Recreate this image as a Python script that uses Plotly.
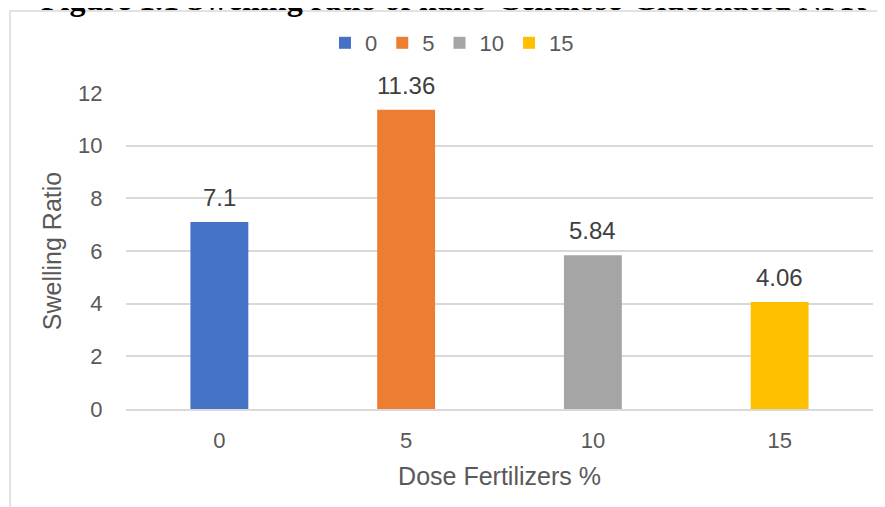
import plotly.graph_objects as go

# ---- data ----
categories = ["0", "5", "10", "15"]
swelling_ratio = [7.1, 11.36, 5.84, 4.06]
bar_colors = ["#4472C4", "#ED7D31", "#A5A5A5", "#FFC000"]
y_ticks = [0, 2, 4, 6, 8, 10, 12]
title_text = "Figure 1.1 Swelling ratio of nano-Cellulose-Gluconated NPK"
x_title = "Dose Fertilizers %"
y_title = "Swelling Ratio"

W, H = 885, 507
OFF = 8  # page body margin of the browser
ML, MR, MT, MB = 126 - OFF, 20, 93 - OFF, 106
PW, PH = W - ML - MR, H - MT - MB


def px_x(p):
    return (p - OFF - ML) / PW


def px_y(p):
    return (H - MB - (p - OFF)) / PH


FONT = "Liberation Sans, Arial, sans-serif"
GRAY = "#595959"

fig = go.Figure()
for i, (cat, val, col) in enumerate(zip(categories, swelling_ratio, bar_colors)):
    fig.add_trace(go.Bar(
        x=[cat], y=[val], name=cat, width=0.31,
        marker=dict(color=col, line=dict(width=0)),
        cliponaxis=False,
    ))
    fig.add_annotation(
        x=i, y=val, xref="x", yref="y", text=str(val),
        showarrow=False, yanchor="bottom", yshift=9,
        font=dict(family=FONT, size=24, color="#404040"),
    )

# figure heading (cut off at the top of the picture)
fig.add_annotation(
    x=px_x(453), y=px_y(19), xref="paper", yref="paper",
    text="<b>" + title_text + "</b>", showarrow=False,
    xanchor="center", yanchor="bottom",
    font=dict(family="Liberation Serif, Times New Roman, serif", size=32, color="#000000"),
)

# chart frame
fig.add_shape(
    type="rect", xref="paper", yref="paper",
    x0=px_x(10), x1=px_x(910), y0=px_y(11), y1=px_y(540),
    line=dict(color="#D9D9D9", width=1.5), fillcolor="rgba(0,0,0,0)", layer="below",
)

fig.update_layout(
    width=W, height=H,
    margin=dict(l=ML, r=MR, t=MT, b=MB),
    paper_bgcolor="white", plot_bgcolor="white",
    barmode="overlay",
    font=dict(family=FONT, color=GRAY, size=22),
    showlegend=True,
    legend=dict(
        orientation="h", x=px_x(452), xanchor="center",
        y=px_y(43), yanchor="middle",
        font=dict(family=FONT, size=22, color=GRAY),
        bgcolor="rgba(0,0,0,0)",
    ),
    xaxis=dict(
        type="category", categoryorder="array", categoryarray=categories,
        range=[-0.5, len(categories) - 0.5],
        showgrid=False, showline=True, linecolor="#D9D9D9", linewidth=1.5,
        ticks="outside", ticklen=11, tickcolor="rgba(0,0,0,0)",
        tickfont=dict(size=22, color=GRAY),
        title=dict(text=x_title, font=dict(size=25, color=GRAY), standoff=15),
    ),
    yaxis=dict(
        range=[0, 12], tickvals=y_ticks,
        showgrid=True, gridcolor="#D9D9D9", gridwidth=1.5,
        zeroline=False, showline=False,
        ticks="outside", ticklen=18, tickcolor="rgba(0,0,0,0)",
        tickfont=dict(size=22, color=GRAY),
        title=dict(text=y_title, font=dict(size=25, color=GRAY), standoff=9),
    ),
)

fig.write_html("out.html")
